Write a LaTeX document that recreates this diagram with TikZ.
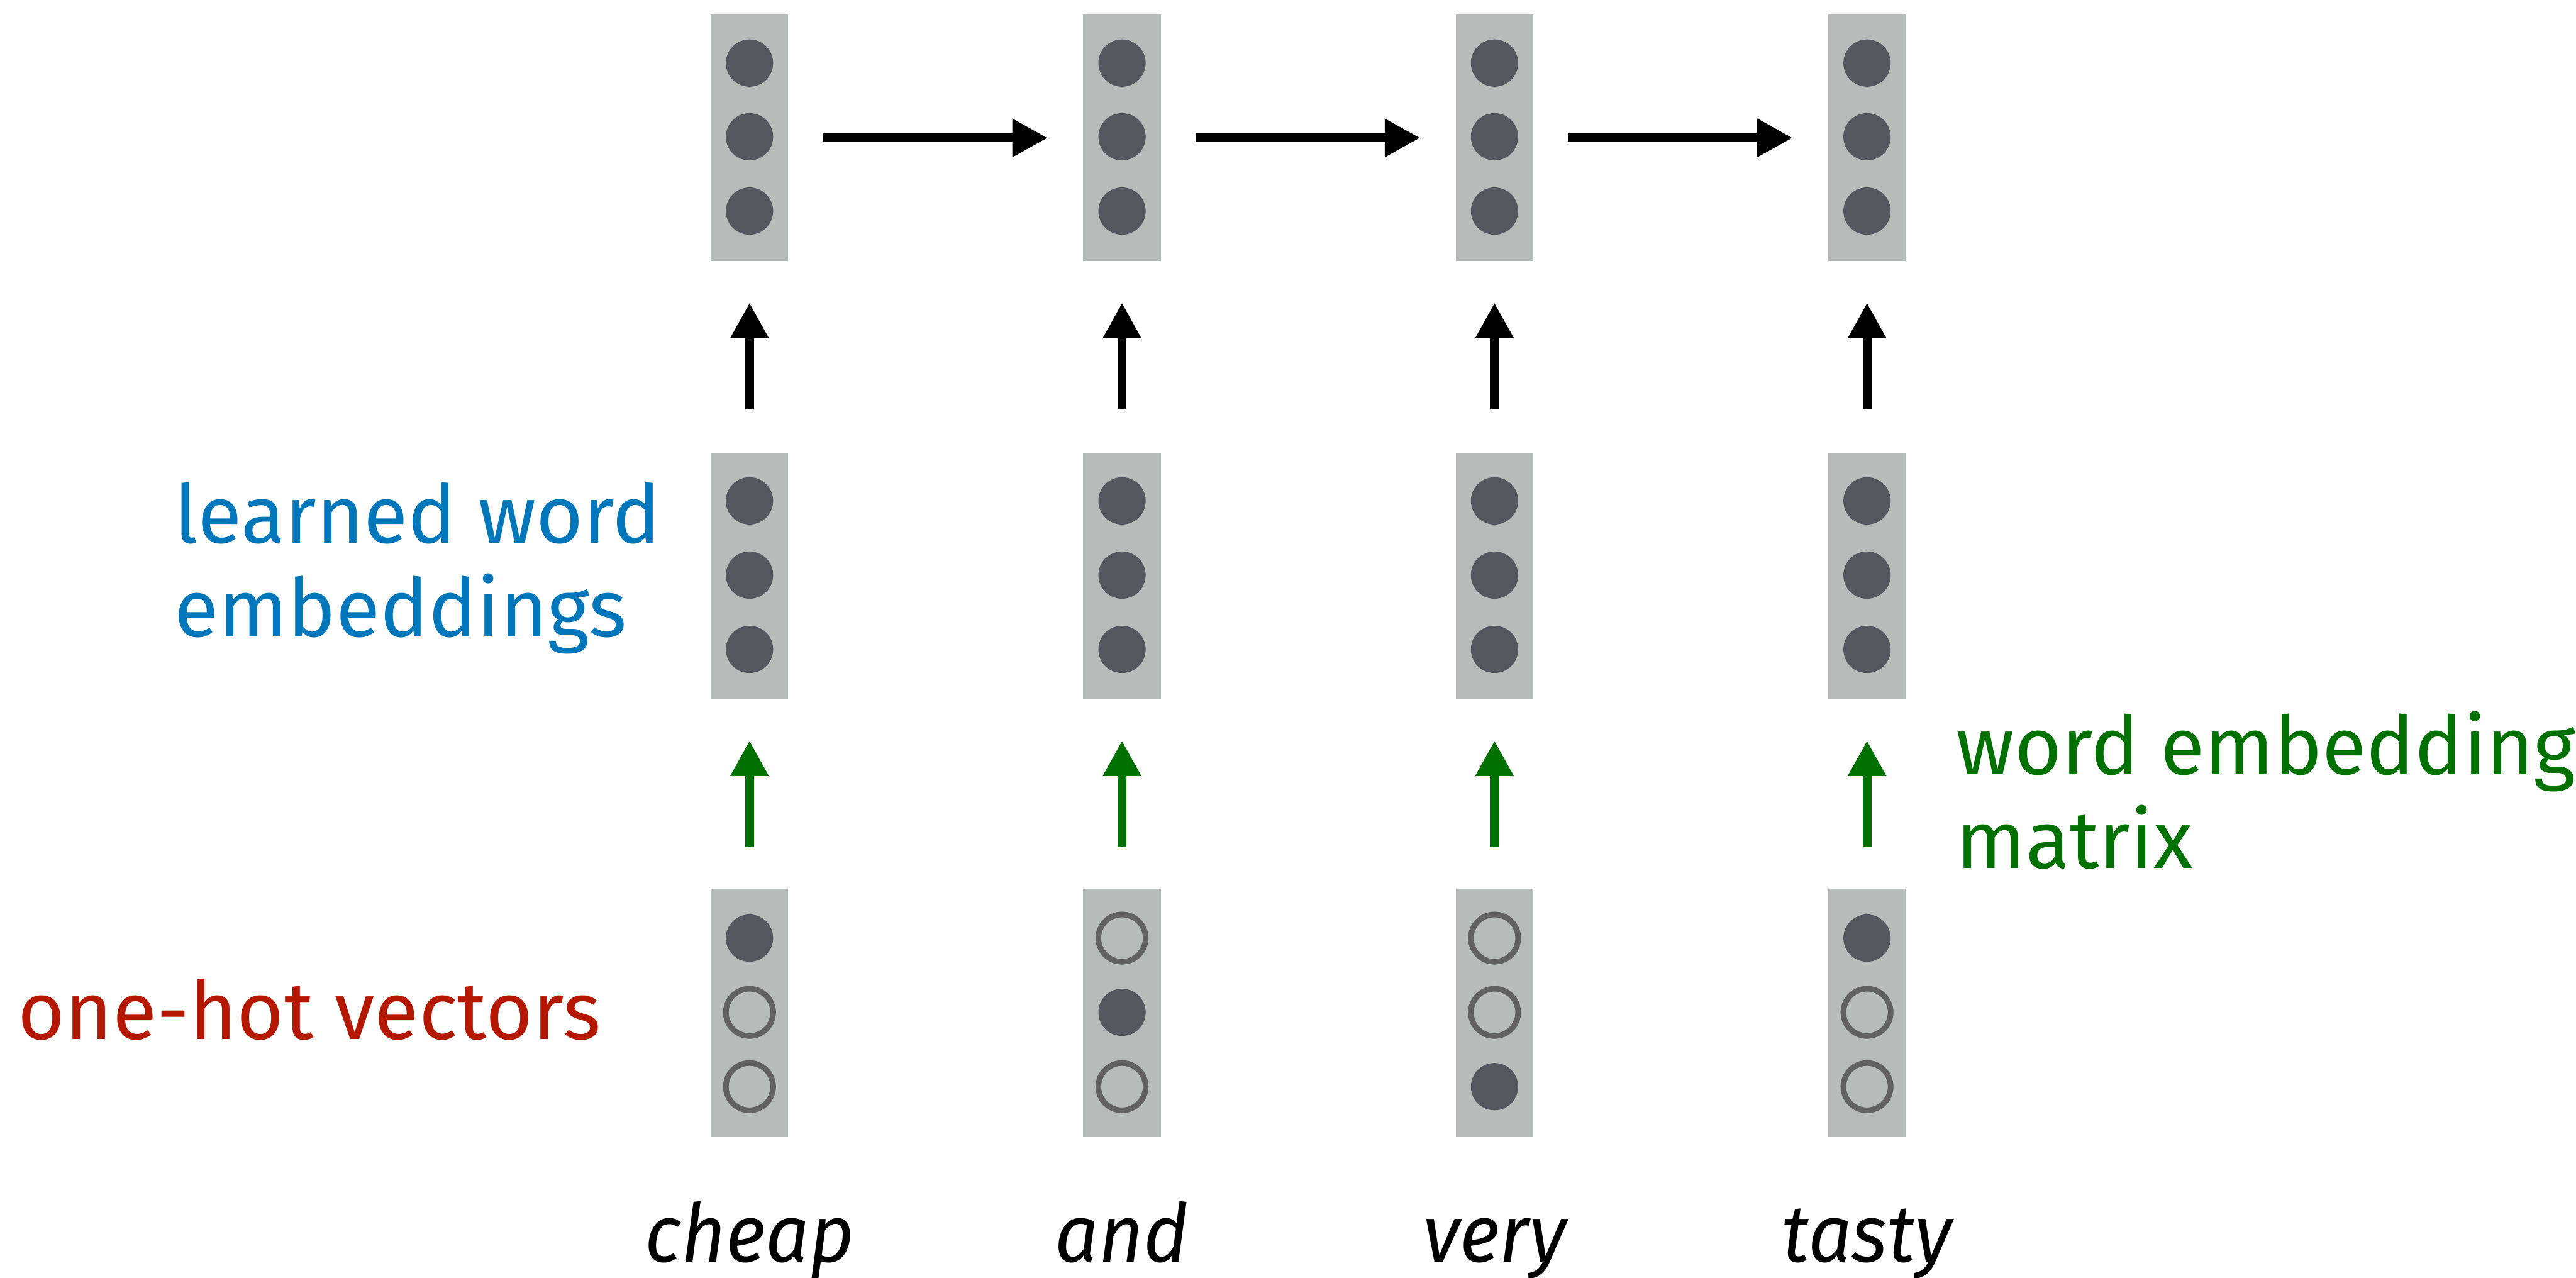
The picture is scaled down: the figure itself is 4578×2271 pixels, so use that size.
\documentclass[tikz,border=0pt]{standalone}
\usepackage{fontspec}
\setmainfont{Fira Sans}[ItalicFeatures={FakeStretch=0.95}]
\usetikzlibrary{arrows.meta}

\definecolor{boxgray}{RGB}{183,187,186}
\definecolor{dotdark}{RGB}{83,87,94}
\definecolor{ringgray}{RGB}{97,97,97}
\definecolor{labelblue}{RGB}{0,119,187}
\definecolor{labelred}{RGB}{180,24,0}
\definecolor{labelgreen}{RGB}{0,112,0}

\begin{document}
\begin{tikzpicture}[x=0.1pt,y=-0.1pt,
  vecbox/.style={fill=boxgray, minimum width=13.8pt, minimum height=43.8pt, inner sep=0pt, outer sep=0pt},
  dot/.style={circle, fill=dotdark, minimum size=8.4pt, inner sep=0pt, outer sep=0pt},
  ring/.style={circle, draw=ringgray, line width=1.0pt, minimum size=8.4pt, inner sep=0pt, outer sep=0pt},
  flow/.style={line width=1.6pt, -{Triangle[length=6.3pt,width=6.4pt]}},
  lblfont/.style={font=\fontsize{14.4pt}{16.7pt}\selectfont, inner sep=0pt, align=left},
  wordlbl/.style={font=\fontsize{14.4pt}{16.7pt}\selectfont\itshape, inner sep=0pt, anchor=base},
]
\useasboundingbox (0,0) rectangle (4578,2271);

% one column per word: hidden state, embedding, one-hot input
\foreach \i/\x/\w/\a/\b/\c in {1/1332/cheap/dot/ring/ring,
                               2/1994/and/ring/dot/ring,
                               3/2656/very/ring/ring/dot,
                               4/3318/tasty/dot/ring/ring}{
  \node[vecbox] (h\i) at (\x,245) {};
  \node[dot] (h\i-1) at (\x,112) {};
  \node[dot] (h\i-2) at (\x,243) {};
  \node[dot] (h\i-3) at (\x,375) {};

  \node[vecbox] (e\i) at (\x,1024) {};
  \node[dot] (e\i-1) at (\x,890) {};
  \node[dot] (e\i-2) at (\x,1022) {};
  \node[dot] (e\i-3) at (\x,1154) {};

  \node[vecbox, minimum height=44.1pt] (o\i) at (\x,1800) {};
  \node[\a] (o\i-1) at (\x,1667) {};
  \node[\b] (o\i-2) at (\x,1799) {};
  \node[\c] (o\i-3) at (\x,1931) {};

  \node[wordlbl] (w\i) at (\x,2242) {\w};

  \draw[flow, shorten <=7.8pt, shorten >=7.4pt] (e\i.north) -- (h\i.south);
  \draw[flow, labelgreen, shorten <=7.4pt, shorten >=7.3pt] (o\i.north) -- (e\i.south);
}

% recurrence between hidden states
\foreach \i/\j in {1/2,2/3,3/4}{
  \draw[flow, shorten <=6.2pt, shorten >=6.3pt] (h\i.east) -- (h\j.west);
}

% side labels (base anchor sits on the last line)
\node[lblfont, text=labelblue, anchor=base west] (lbl-emb) at (308,1132) {learned word\\embeddings};
\node[lblfont, text=labelred, anchor=base west] (lbl-onehot) at (30,1847) {one-hot vectors};
\node[lblfont, text=labelgreen, anchor=base west] (lbl-matrix) at (3475,1543) {word embedding\\matrix};
\end{tikzpicture}
\end{document}
